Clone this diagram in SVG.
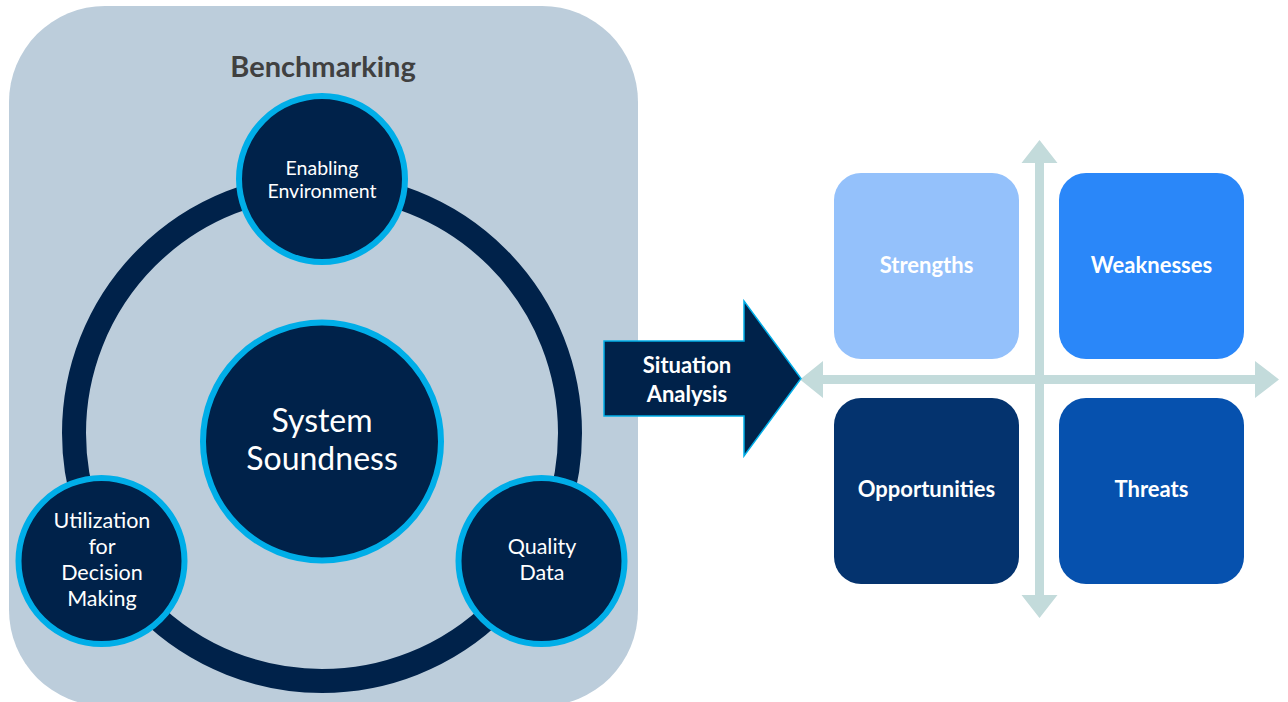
<svg xmlns="http://www.w3.org/2000/svg" width="1288" height="702" viewBox="0 0 1288 702">
<defs>
<style>
.navy{fill:#00224a;stroke:#00aee8;stroke-width:6}
.lbl{font-family:Lato,"Open Sans","Liberation Sans",sans-serif;fill:#ffffff;text-anchor:middle}
.b{font-weight:bold}
.axis{fill:#c3dbdb}
.box{stroke:none}
</style>
</defs>
<rect width="1288" height="702" fill="#ffffff"/>
<g id="benchmarking-panel">
<rect x="9" y="6" width="629" height="700" rx="96" ry="96" fill="#bccddb"/>
<text x="323" y="77" font-family="Lato,'Open Sans','Liberation Sans',sans-serif" font-weight="bold" font-size="29" fill="#404040" text-anchor="middle">Benchmarking</text>
</g>
<g id="connectors">
<circle id="ring" cx="322" cy="433" r="248" fill="none" stroke="#00224a" stroke-width="24"/>
<path class="axis" d="M1039.5,140 L1057.5,163 L1044,163 L1044,375 L1255,375 L1255,361 L1279,379.5 L1255,398 L1255,384 L1044,384 L1044,595 L1057.5,595 L1039.5,618 L1021.5,595 L1035,595 L1035,384 L823,384 L823,398 L800,379.5 L823,361 L823,375 L1035,375 L1035,163 L1021.5,163 Z"/>
</g>
<g id="enabling-environment">
<circle class="navy" cx="322" cy="179" r="83"/>
<text class="lbl" font-size="19.5"><tspan x="322" y="175">Enabling</tspan><tspan x="322" y="198">Environment</tspan></text>
</g>
<g id="system-soundness">
<circle class="navy" cx="322" cy="441.5" r="119"/>
<text class="lbl" font-size="32"><tspan x="322" y="432">System</tspan><tspan x="322" y="470">Soundness</tspan></text>
</g>
<g id="utilization">
<circle class="navy" cx="101.5" cy="561" r="83"/>
<text class="lbl" font-size="21.5"><tspan x="102" y="528">Utilization</tspan><tspan x="102" y="554">for</tspan><tspan x="102" y="580">Decision</tspan><tspan x="102" y="606">Making</tspan></text>
</g>
<g id="quality-data">
<circle class="navy" cx="541.5" cy="561" r="83"/>
<text class="lbl" font-size="21.5"><tspan x="542" y="554">Quality</tspan><tspan x="542" y="580">Data</tspan></text>
</g>
<g id="situation-analysis">
<path d="M604,341 L744,341 L744,301 L801,378.5 L744,456 L744,416 L604,416 Z" fill="#00224a" stroke="#00aee8" stroke-width="1.5"/>
<text class="lbl b" font-size="22"><tspan x="687" y="373">Situation</tspan><tspan x="687" y="402">Analysis</tspan></text>
</g>
<g id="strengths">
<rect class="box" x="834" y="173" width="185" height="186" rx="27" fill="#94c1fb"/>
<text class="lbl b" font-size="22" x="926.5" y="273">Strengths</text>
</g>
<g id="weaknesses">
<rect class="box" x="1059" y="173" width="185" height="186" rx="27" fill="#2a87f9"/>
<text class="lbl b" font-size="22" x="1151.5" y="273">Weaknesses</text>
</g>
<g id="opportunities">
<rect class="box" x="834" y="398" width="185" height="186" rx="27" fill="#04336e"/>
<text class="lbl b" font-size="22" x="926.5" y="497">Opportunities</text>
</g>
<g id="threats">
<rect class="box" x="1059" y="398" width="185" height="186" rx="27" fill="#0651ae"/>
<text class="lbl b" font-size="22" x="1151.5" y="497">Threats</text>
</g>
</svg>
